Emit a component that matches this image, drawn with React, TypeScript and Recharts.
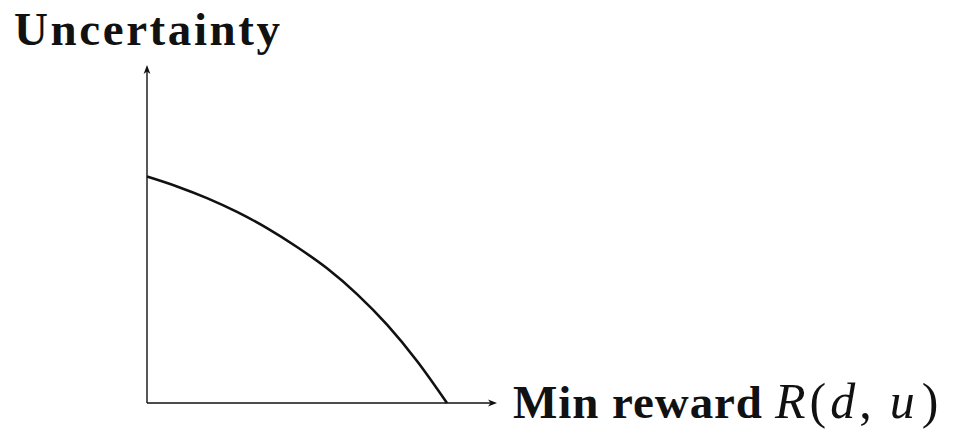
import React from 'react';
import { LineChart, Line, XAxis, YAxis, ReferenceLine } from 'recharts';

// trade-off curve: min reward R(d,u) on x, uncertainty on y
const minReward = [0, 0.1, 0.2, 0.3, 0.4, 0.5, 0.6, 0.7, 0.8, 0.9, 1.0];
const uncertainty = [0.755, 0.722, 0.683, 0.637, 0.583, 0.52, 0.449, 0.363, 0.261, 0.14, 0];

const X_MAX = 1.1667;
const Y_MAX = 1.1267;

const data = minReward.map((r, i) => ({ r, u: uncertainty[i] }));

const FONT = '"Liberation Serif", "DejaVu Serif", serif';
const INK = '#111';

type SegProps = { x1?: number; y1?: number; x2?: number; y2?: number };

// axis line ending in a filled arrowhead, with its label drawn past the tip
function arrowAxis(kind: 'x' | 'y') {
  return (props: SegProps) => {
    const x1 = Number(props.x1), y1 = Number(props.y1);
    const x2 = Number(props.x2), y2 = Number(props.y2);
    const len = Math.hypot(x2 - x1, y2 - y1) || 1;
    const dx = (x2 - x1) / len, dy = (y2 - y1) / len;
    const nx = -dy, ny = dx;
    const L = 9, W = 3.4;
    const bx = x2 - dx * L, by = y2 - dy * L;
    const head = [
      `${x2},${y2}`,
      `${bx + nx * W},${by + ny * W}`,
      `${x2 - dx * L * 0.72},${y2 - dy * L * 0.72}`,
      `${bx - nx * W},${by - ny * W}`,
    ].join(' ');
    return (
      <g>
        <line x1={x1} y1={y1} x2={x2 - dx * 5} y2={y2 - dy * 5} stroke={INK} strokeWidth={1.4} />
        <polygon points={head} fill={INK} />
        {kind === 'y' ? (
          <text
            x={x2 - 133}
            y={y2 - 20}
            fontFamily={FONT}
            fontWeight="bold"
            fontSize={47}
            fill={INK}
            textLength={266}
            lengthAdjust="spacing"
          >
            Uncertainty
          </text>
        ) : (
          <g>
            <text
              x={x2 + 16}
              y={y2 + 15}
              fontFamily={FONT}
              fontWeight="bold"
              fontSize={47}
              fill={INK}
              textLength={249}
              lengthAdjust="spacing"
            >
              Min reward
            </text>
            <text x={x2 + 278} y={y2 + 15} fontFamily={FONT} fontSize={50} fill={INK}>
              <tspan fontStyle="italic">R</tspan>
              <tspan dx={4}>(</tspan>
              <tspan dx={4} fontStyle="italic">d</tspan>
              <tspan dx={4}>,</tspan>
              <tspan dx={18} fontStyle="italic">u</tspan>
              <tspan dx={7}>)</tspan>
            </text>
          </g>
        )}
      </g>
    );
  };
}

export default function App() {
  return (
    <div style={{ position: 'absolute', left: 0, top: 0, background: '#fff' }}>
      <LineChart
        width={956}
        height={436}
        data={data}
        margin={{ top: 65, left: 147, right: 459, bottom: 33 }}
      >
        <XAxis type="number" dataKey="r" domain={[0, X_MAX]} hide />
        <YAxis type="number" domain={[0, Y_MAX]} hide />
        <ReferenceLine
          segment={[{ x: 0, y: 0 }, { x: X_MAX, y: 0 }]}
          ifOverflow="visible"
          shape={arrowAxis('x')}
        />
        <ReferenceLine
          segment={[{ x: 0, y: 0 }, { x: 0, y: Y_MAX }]}
          ifOverflow="visible"
          shape={arrowAxis('y')}
        />
        <Line
          type="monotone"
          dataKey="u"
          stroke={INK}
          strokeWidth={2.6}
          dot={false}
          activeDot={false}
          isAnimationActive={false}
        />
      </LineChart>
    </div>
  );
}
